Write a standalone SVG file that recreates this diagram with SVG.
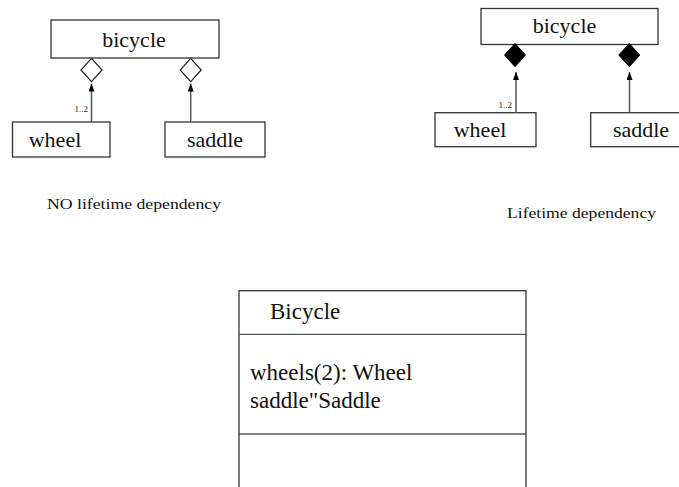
<svg xmlns="http://www.w3.org/2000/svg" width="679" height="487" viewBox="0 0 679 487">
  <style>
    .box { fill: #fff; stroke: #333; stroke-width: 1.3; }
    .sep { stroke: #555; stroke-width: 1.3; }
    .conn { stroke: #555; stroke-width: 1.5; fill: none; }
    .agg { fill: #fff; stroke: #222; stroke-width: 1.2; }
    .comp { fill: #000; stroke: #000; stroke-width: 1; }
    text { font-family: 'Liberation Serif', 'DejaVu Serif', serif; fill: #111; }
    .lbl { font-size: 22px; text-anchor: middle; }
    .mult { font-size: 9px; text-anchor: end; fill: #222; }
    .cap { font-size: 15px; }
    .attr { font-size: 23px; }
  </style>
  <defs>
    <!-- small solid head drawn at the upper end of each connector -->
    <marker id="tip" viewBox="0 0 8 6" refX="8" refY="3" markerWidth="8" markerHeight="6" markerUnits="userSpaceOnUse" orient="auto">
      <path d="M8 3 L0 6 L0 0 Z" fill="#000"/>
    </marker>
  </defs>

  <!-- aggregation: parts outlive the whole -->
  <g id="agg-bicycle">
    <rect class="box" x="51" y="20" width="168" height="38"/>
    <text class="lbl" x="134" y="47">bicycle</text>
  </g>
  <g id="agg-wheel">
    <rect class="box" x="12.5" y="122" width="97.5" height="35"/>
    <text class="lbl" x="55" y="147">wheel</text>
  </g>
  <g id="agg-saddle">
    <rect class="box" x="165" y="122" width="100" height="35"/>
    <text class="lbl" x="215" y="147">saddle</text>
  </g>

  <!-- composition: parts share the whole's lifetime -->
  <g id="comp-bicycle">
    <rect class="box" x="481" y="8.5" width="177" height="36"/>
    <text class="lbl" x="564.5" y="32.5">bicycle</text>
  </g>
  <g id="comp-wheel">
    <rect class="box" x="435" y="112.7" width="101" height="34"/>
    <text class="lbl" x="480" y="137">wheel</text>
  </g>
  <g id="comp-saddle">
    <rect class="box" x="590.7" y="112.7" width="90" height="34"/>
    <text class="lbl" x="641" y="137">saddle</text>
  </g>

  <g id="connectors">
    <!-- left pair: hollow diamonds -->
    <line class="conn" x1="91.5" y1="122" x2="91.5" y2="83.5" marker-end="url(#tip)"/>
    <path class="agg" d="M91.5 58.3 L102 70 L91.5 81.7 L81 70 Z"/>
    <text class="mult" x="88" y="111.5">1..2</text>
    <line class="conn" x1="190.7" y1="122" x2="190.7" y2="83.5" marker-end="url(#tip)"/>
    <path class="agg" d="M190.7 58.3 L201.2 70 L190.7 81.7 L180.2 70 Z"/>

    <!-- right pair: filled diamonds -->
    <line class="conn" x1="516" y1="112.7" x2="516" y2="72" marker-end="url(#tip)"/>
    <path class="comp" d="M515 43.5 L525.5 55 L515 66.7 L504.5 55 Z"/>
    <text class="mult" x="512" y="107.5">1..2</text>
    <line class="conn" x1="629.5" y1="112.7" x2="629.5" y2="72" marker-end="url(#tip)"/>
    <path class="comp" d="M629.3 43.5 L639.8 55 L629.3 66.7 L618.8 55 Z"/>
  </g>

  <g id="captions">
    <text class="cap" x="47" y="209" textLength="174" lengthAdjust="spacingAndGlyphs">NO lifetime dependency</text>
    <text class="cap" x="507" y="218" textLength="149" lengthAdjust="spacingAndGlyphs">Lifetime dependency</text>
  </g>

  <!-- class box with attribute compartment -->
  <g id="bicycle-class">
    <rect class="box" x="239" y="290.7" width="287" height="210"/>
    <line class="sep" x1="239" y1="334.3" x2="526" y2="334.3"/>
    <line class="sep" x1="239" y1="434" x2="526" y2="434"/>
    <text class="attr" x="270" y="319">Bicycle</text>
    <text class="attr" x="250" y="380">wheels(2): Wheel</text>
    <text class="attr" x="250" y="408.3">saddle"Saddle</text>
  </g>
</svg>
